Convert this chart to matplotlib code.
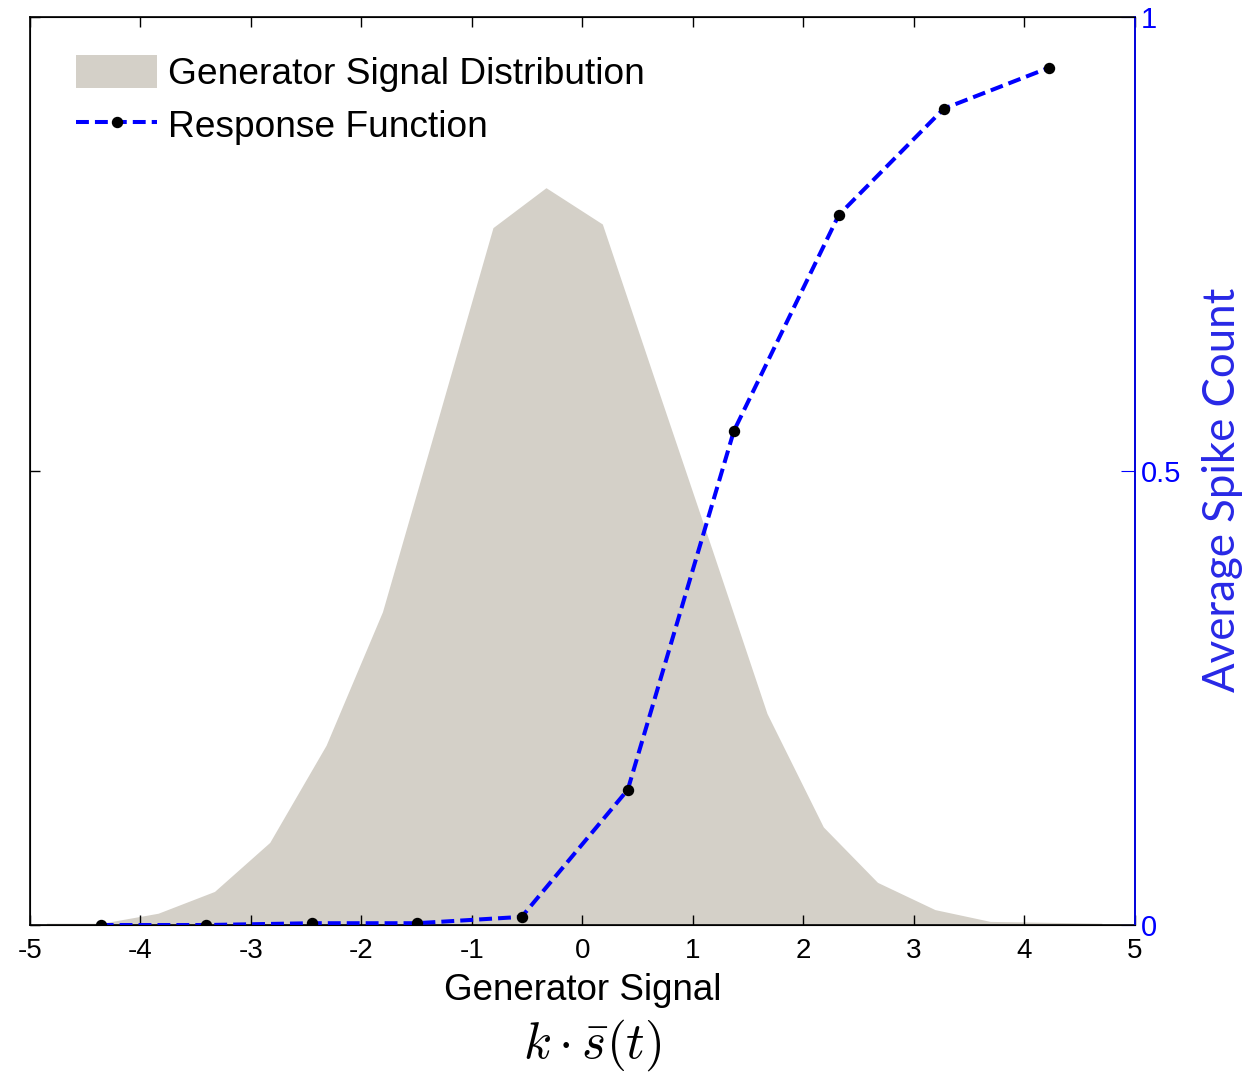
import numpy as np
import matplotlib
matplotlib.use("Agg")
import matplotlib.pyplot as plt
from matplotlib.patches import Patch
from matplotlib.lines import Line2D

# generator signal distribution (area outline)
dist_x = [-4.85, -4.35, -3.84, -3.33, -2.83, -2.32, -1.81, -1.31, -0.81, -0.33,
          0.18, 0.68, 1.18, 1.67, 2.18, 2.67, 3.19, 3.69, 4.20, 4.70]
dist_y = [0.002, 0.002, 0.013, 0.037, 0.091, 0.198, 0.345, 0.556, 0.768, 0.812,
          0.772, 0.591, 0.411, 0.233, 0.108, 0.047, 0.017, 0.004, 0.003, 0.002]

# response function (average spike count)
resp_x = [-4.36, -3.41, -2.45, -1.50, -0.55, 0.41, 1.37, 2.32, 3.27, 4.22]
resp_y = [0.0, 0.0, 0.002, 0.002, 0.009, 0.149, 0.544, 0.782, 0.899, 0.944]

x_ticks = [-5, -4, -3, -2, -1, 0, 1, 2, 3, 4, 5]
right_ticks = [0, 0.5, 1]

fill_color = "#d4d0c8"
tick_font = "Liberation Sans"
line_kw = dict(color="blue", linestyle="--", dashes=(3.2, 1.5), linewidth=2.9,
               marker="o", markersize=7.2, markerfacecolor="black",
               markeredgecolor="black")

fig = plt.figure(figsize=(12.53, 10.74), dpi=100)
ax = fig.add_axes([0.0239, 0.1387, 0.8819, 0.8455])
ax.fill_between(dist_x, dist_y, 0, color=fill_color, linewidth=0)
ax.set_xlim(-5, 5)
ax.set_ylim(0, 1)
ax.set_xticks(x_ticks)
ax.set_xticklabels([str(t) for t in x_ticks], family=tick_font)
ax.set_yticks([0, 0.5, 1])
ax.set_yticklabels([])
ax.tick_params(axis="both", direction="in", length=7, width=1, top=True)
ax.tick_params(axis="x", pad=9, labelsize=20)
for s in ax.spines.values():
    s.set_linewidth(1.2)

ax.set_xlabel("Generator Signal", fontsize=26.5, family=tick_font, labelpad=7)
fig.text(0.473, 0.027, r"$k \cdot \bar{s}(t)$", fontsize=37, ha="center", va="center",
         math_fontfamily="cm")

ax2 = ax.twinx()
ax2.plot(resp_x, resp_y, **line_kw)
ax2.set_ylim(0, 1)
ax2.set_xlim(-5, 5)
ax2.set_yticks(right_ticks)
ax2.set_yticklabels(["0", "0.5", "1"], family=tick_font)
ax2.tick_params(axis="y", direction="in", length=10, colors="blue", pad=4, labelsize=21)
ax2.spines["right"].set_color("blue")
ax2.spines["right"].set_linewidth(1.2)
fig.text(0.976, 0.5438, "Average Spike Count", color="#2828e6", fontsize=31.5,
         family="Lato", rotation=90, ha="center", va="center")

handles = [Patch(facecolor=fill_color, edgecolor="none"), Line2D([], [], **line_kw)]
ax2.legend(handles, ["Generator Signal Distribution", "Response Function"],
           loc="upper left", bbox_to_anchor=(0.028, 0.975), frameon=False,
           prop={"family": tick_font, "size": 26.7}, handlelength=2.2, handleheight=1.0,
           handletextpad=0.28, labelspacing=0.42, numpoints=1, borderaxespad=0)

fig.savefig("out.png", dpi=100)
